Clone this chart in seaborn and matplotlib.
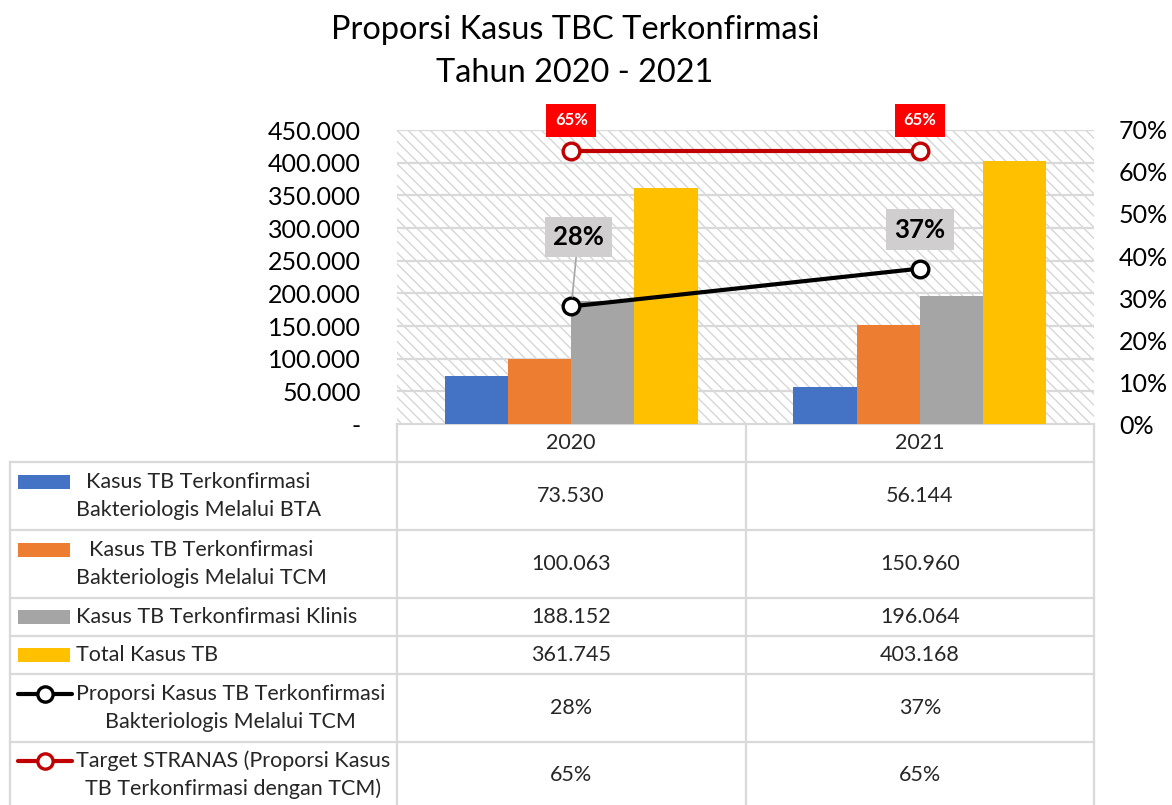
import numpy as np
import pandas as pd
import matplotlib
matplotlib.use("Agg")
import matplotlib.pyplot as plt
from matplotlib.patches import Rectangle
from matplotlib.lines import Line2D
from matplotlib.ticker import FuncFormatter, MultipleLocator
import seaborn as sns

# ---- data -------------------------------------------------------------
years = ["2020", "2021"]
bar_series = [
    "Kasus TB Terkonfirmasi\nBakteriologis Melalui BTA",
    "Kasus TB Terkonfirmasi\nBakteriologis Melalui TCM",
    "Kasus TB Terkonfirmasi Klinis",
    "Total Kasus TB",
]
line_series = [
    "Proporsi Kasus TB Terkonfirmasi\nBakteriologis Melalui TCM",
    "Target STRANAS (Proporsi Kasus\nTB Terkonfirmasi dengan TCM)",
]
kasus_bta = [73530, 56144]
kasus_tcm = [100063, 150960]
kasus_klinis = [188152, 196064]
total_kasus = [361745, 403168]
proporsi_tcm = [0.28, 0.37]
target_stranas = [0.65, 0.65]

bar_colors = ["#4472C4", "#ED7D31", "#A5A5A5", "#FFC000"]
line_colors = ["#000000", "#C00000"]

# ---- style ------------------------------------------------------------
sns.set_theme(style="white")
plt.rcParams["font.family"] = ["Lato", "DejaVu Sans"]
plt.rcParams["hatch.linewidth"] = 1.0

W, H = 1172, 805
fig = plt.figure(figsize=(W / 100, H / 100), dpi=100)
fig.patch.set_facecolor("white")

# pixel-space layer for title and data table
tab = fig.add_axes([0, 0, 1, 1])
tab.set_xlim(0, W)
tab.set_ylim(H, 0)
tab.axis("off")

def px_axes(left, top, right, bottom):
    return [left / W, (H - bottom) / H, (right - left) / W, (bottom - top) / H]

ax = fig.add_axes(px_axes(397, 130, 1094, 424))

# hatched plot-area background
ax.add_patch(Rectangle((0, 0), 1, 1, transform=ax.transAxes, facecolor="white",
                       edgecolor="#d6d6d6", linewidth=0, hatch="\\\\\\", zorder=0.1))

bars_df = pd.DataFrame({
    "Tahun": np.repeat(years, len(bar_series)),
    "Seri": bar_series * len(years),
    "Jumlah": np.array([kasus_bta, kasus_tcm, kasus_klinis, total_kasus]).T.ravel(),
})
sns.barplot(data=bars_df, x="Tahun", y="Jumlah", hue="Seri", hue_order=bar_series,
            palette=bar_colors, saturation=1, width=0.725, gap=0, linewidth=0,
            errorbar=None, legend=False, ax=ax)

ax.set_ylim(0, 450000)
ax.set_xlim(-0.5, 1.5)
ax.yaxis.set_major_locator(MultipleLocator(50000))
ax.yaxis.set_major_formatter(FuncFormatter(
    lambda v, _: "-" if v == 0 else f"{int(round(v)):,}".replace(",", ".")))
ax.yaxis.grid(True, color="#d9d9d9", linewidth=1.6)
ax.set_axisbelow(True)
ax.tick_params(axis="y", length=0, pad=26, labelsize=18, labelcolor="black")
ax.tick_params(axis="x", bottom=False, labelbottom=False)
ax.set_xlabel("")
ax.set_ylabel("")
for s in ax.spines.values():
    s.set_visible(False)

# secondary axis with the proportion lines
ax2 = ax.twinx()
for vals, col in zip([target_stranas, proporsi_tcm], [line_colors[1], line_colors[0]]):
    sns.pointplot(x=years, y=vals, color=col, markers="o", errorbar=None,
                  linewidth=3, markersize=12, ax=ax2)
    ln = ax2.lines[-1]
    ln.set_markerfacecolor("white")
    ln.set_markeredgecolor(col)
    ln.set_markeredgewidth(2.4)
    ln.set_clip_on(False)
    ln.set_zorder(3)

ax2.set_ylim(0, 0.70)
ax2.set_xlim(-0.5, 1.5)
ax2.yaxis.set_major_locator(MultipleLocator(0.1))
ax2.yaxis.set_major_formatter(FuncFormatter(lambda v, _: f"{v:.0%}"))
ax2.tick_params(axis="y", length=0, pad=18, labelsize=18, labelcolor="black")
ax2.tick_params(axis="x", bottom=False, labelbottom=False)
ax2.set_xlabel("")
ax2.set_ylabel("")
ax2.grid(False)
for s in ax2.spines.values():
    s.set_visible(False)

# value labels
for i, v in enumerate(target_stranas):
    ax2.annotate(f"{v:.0%}", xy=(i, v), xytext=(0, 22), textcoords="offset points",
                 ha="center", va="center", fontsize=12, fontweight="bold", color="white",
                 bbox=dict(boxstyle="square,pad=0.5", facecolor="#FF0000", edgecolor="none"),
                 zorder=5)

prop_offsets = [(5, 50), (0, 28)]
for i, (v, off) in enumerate(zip(proporsi_tcm, prop_offsets)):
    ax2.annotate(f"{v:.0%}", xy=(i, v), xytext=off, textcoords="offset points",
                 ha="center", va="center", fontsize=18.5, fontweight="bold", color="black",
                 bbox=dict(boxstyle="square,pad=0.32", facecolor="#D0CECE", edgecolor="none"),
                 arrowprops=dict(arrowstyle="-", color="#A6A6A6", lw=1.2,
                                 shrinkA=0, shrinkB=7) if off[1] > 40 else None,
                 zorder=5)

# ---- title ------------------------------------------------------------
tab.text(575, 30, "Proporsi Kasus TBC Terkonfirmasi", ha="center", va="center",
         fontsize=23.4, color="black")
tab.text(575, 73, "Tahun 2020 - 2021", ha="center", va="center",
         fontsize=23.4, color="black")

# ---- data table -------------------------------------------------------
grid_kw = dict(color="#d9d9d9", linewidth=1.6, solid_capstyle="projecting")
col_x = [10, 397, 746, 1094]
row_y = [462, 530, 598, 636, 674, 742, 808]
col_centers = [571, 920]

tab.add_line(Line2D([397, 1094], [424, 424], **grid_kw))
for y in row_y[:-1]:
    tab.add_line(Line2D([10, 1094], [y, y], **grid_kw))
for x in col_x[1:]:
    tab.add_line(Line2D([x, x], [424, 808], **grid_kw))
tab.add_line(Line2D([10, 10], [462, 808], **grid_kw))

cell_fs = 15.5
for cx, yr in zip(col_centers, years):
    tab.text(cx, 443, yr, ha="center", va="center", fontsize=cell_fs)

row_labels = bar_series + line_series
row_values = [
    [f"{v:,}".replace(",", ".") for v in kasus_bta],
    [f"{v:,}".replace(",", ".") for v in kasus_tcm],
    [f"{v:,}".replace(",", ".") for v in kasus_klinis],
    [f"{v:,}".replace(",", ".") for v in total_kasus],
    [f"{v:.0%}" for v in proporsi_tcm],
    [f"{v:.0%}" for v in target_stranas],
]
key_kinds = ["bar"] * 4 + ["line"] * 2
key_colors = bar_colors + line_colors

for r, (label, vals, kind, kc) in enumerate(zip(row_labels, row_values, key_kinds, key_colors)):
    top, bot = row_y[r], row_y[r + 1]
    cy = (top + bot) / 2
    n_lines = label.count("\n") + 1
    key_y = cy - 14.5 * (n_lines - 1)
    tab.text(76, cy, label, ha="left", va="center", multialignment="center",
             fontsize=cell_fs, linespacing=1.45)
    if kind == "bar":
        tab.add_patch(Rectangle((18, key_y - 7), 52, 14, facecolor=kc, edgecolor="none"))
    else:
        tab.add_line(Line2D([18, 72], [key_y, key_y], color=kc, linewidth=3))
        tab.add_line(Line2D([45], [key_y], marker="o", markersize=11, color=kc,
                            markerfacecolor="white", markeredgewidth=2.4))
    for cx, v in zip(col_centers, vals):
        tab.text(cx, cy, v, ha="center", va="center", fontsize=cell_fs)

fig.savefig("out.png", dpi=100, facecolor="white")
